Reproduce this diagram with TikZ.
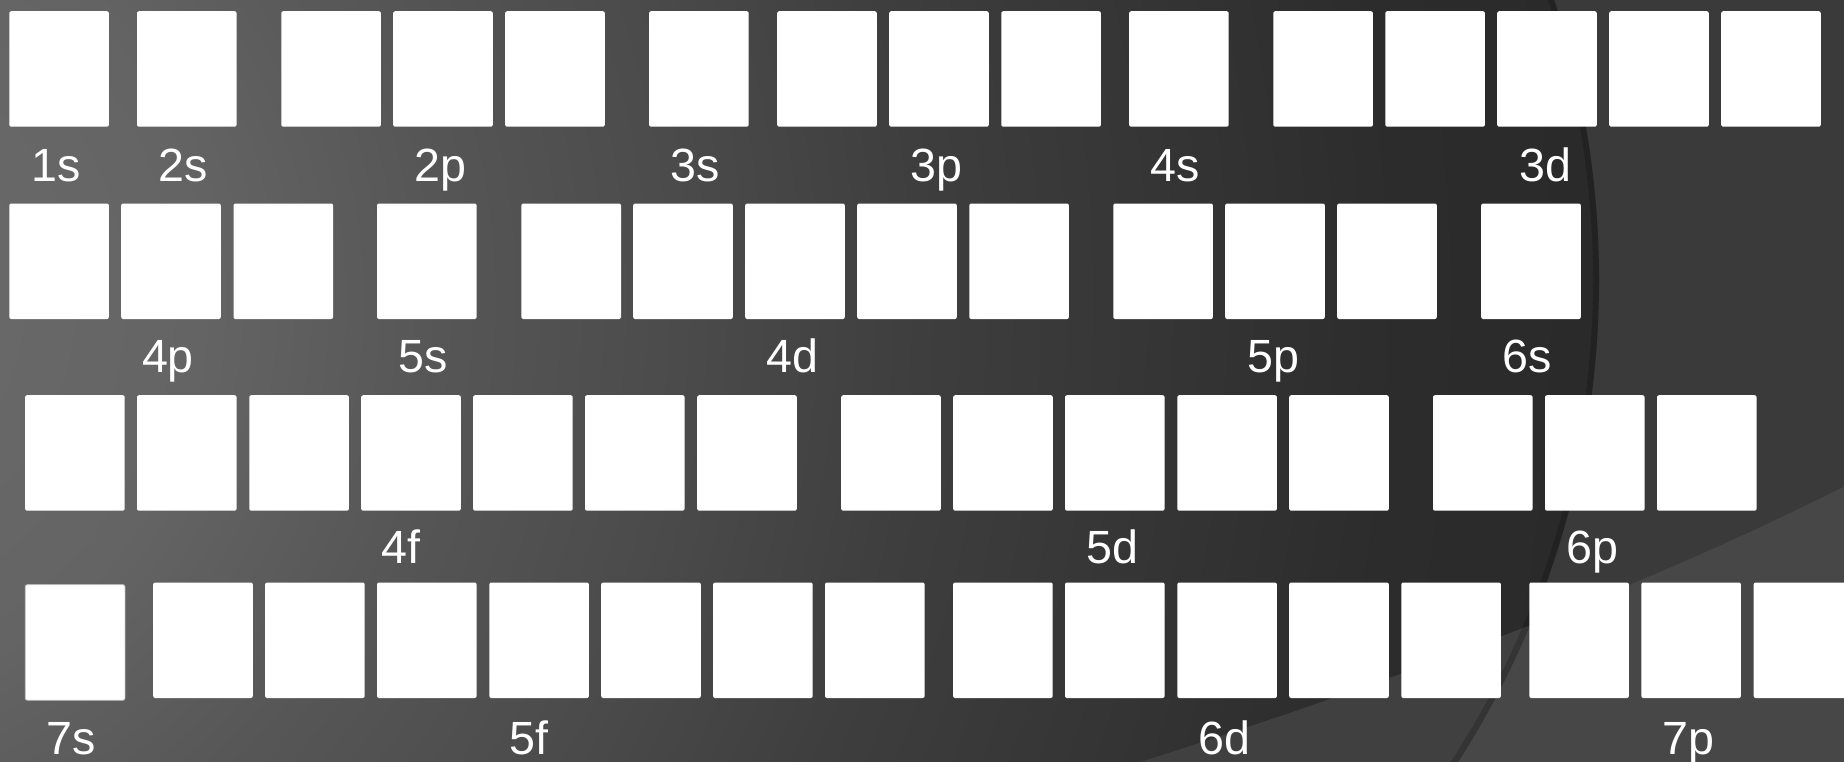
\documentclass[tikz,border=0pt]{standalone}
\usepackage{fontspec}
\setmainfont{Liberation Sans}
\definecolor{outbg}{HTML}{3A3A3A}
\definecolor{swooshout}{HTML}{474747}
\definecolor{swooshin}{HTML}{404040}
\definecolor{edgegray}{HTML}{C8C8C8}
\pgfdeclareradialshading{bgrad}{\pgfpoint{0bp}{0bp}}{%
  color(0bp)=(rgb,255:red,108;green,108;blue,108);
  color(5bp)=(rgb,255:red,100;green,100;blue,100);
  color(8bp)=(rgb,255:red,86;green,86;blue,86);
  color(11bp)=(rgb,255:red,75;green,75;blue,75);
  color(14bp)=(rgb,255:red,62;green,62;blue,62);
  color(17bp)=(rgb,255:red,53;green,53;blue,53);
  color(20bp)=(rgb,255:red,44;green,44;blue,44);
  color(25bp)=(rgb,255:red,40;green,40;blue,40);
  color(50bp)=(rgb,255:red,40;green,40;blue,40)}
\begin{document}
\begin{tikzpicture}[x=1pt,y=-1pt,
  orb/.style={fill=white, rounded corners=2pt, minimum width=99.6pt, minimum height=115.5pt, inner sep=0pt, anchor=north west},
  lbl/.style={text=white, font=\fontsize{46.6}{50}\selectfont, anchor=base, inner sep=0pt}]
% background
\useasboundingbox (0,0) rectangle (1844,761);
\clip (-3,-3) rectangle (1847,764);
\fill[outbg] (-3,-3) rectangle (1847,764);
\fill[swooshout] (1134,764) .. controls (1400,680) and (1650,585) .. (1847,485) -- (1847,764) -- cycle;
\begin{scope}
  \clip (706,280) circle [radius=893];
  \shade[shading=bgrad] (-200,300) circle [radius=2000];
  \fill[swooshin] (1134,764) .. controls (1400,680) and (1650,585) .. (1847,485) -- (1847,764) -- cycle;
  \draw[black, opacity=0.18, line width=12pt] (706,280) circle [radius=893];
\end{scope}
% row 1
\foreach \n/\x in {o1s/9.1, o2s/136.8, o2pa/281.1, o2pb/393.0, o2pc/505.0, o3s/648.9, o3pa/777.0, o3pb/889.0, o3pc/1001.1, o4s/1128.9, o3da/1273.1, o3db/1385.1, o3dc/1497.0, o3dd/1609.0, o3de/1721.0}
  \node[orb] (\n) at (\x,11) {};
% row 2
\foreach \n/\x in {o4pa/9.1, o4pb/121.0, o4pc/233.3, o5s/376.8, o4da/521.2, o4db/633.0, o4dc/745.0, o4dd/857.0, o4de/969.1, o5pa/1113.1, o5pb/1225.0, o5pc/1337.0, o6s/1481.0}
  \node[orb] (\n) at (\x,203.3) {};
% row 3
\foreach \n/\x in {o4fa/24.9, o4fb/136.8, o4fc/249.1, o4fd/361.0, o4fe/472.9, o4ff/584.8, o4fg/697.0, o5da/841.0, o5db/953.0, o5dc/1064.8, o5dd/1177.1, o5de/1289.0, o6pa/1432.8, o6pb/1544.8, o6pc/1656.8}
  \node[orb] (\n) at (\x,395) {};
% row 4
\node[orb, draw=edgegray, line width=0.8pt] (o7s) at (24.9,584.3) {};
\foreach \n/\x in {o5fa/153.0, o5fb/264.9, o5fc/376.8, o5fd/489.1, o5fe/601.0, o5ff/712.9, o5fg/824.8, o6da/952.9, o6db/1064.8, o6dc/1177.1, o6dd/1289.0, o6de/1401.1, o7pa/1529.1, o7pb/1641.1, o7pc/1753.5}
  \node[orb] (\n) at (\x,582.3) {};
% labels
\node[lbl] (l1s) at (56.3,181.7) {1s};
\node[lbl] (l2s) at (182.9,181.7) {2s};
\node[lbl] (l2p) at (440.5,181.7) {2p};
\node[lbl] (l3s) at (695.1,181.7) {3s};
\node[lbl] (l3p) at (936.1,181.7) {3p};
\node[lbl] (l4s) at (1175.2,181.7) {4s};
\node[lbl] (l3d) at (1545.2,181.7) {3d};
\node[lbl] (l4p) at (168,372.7) {4p};
\node[lbl] (l5s) at (423,372.7) {5s};
\node[lbl] (l4d) at (792.4,372.7) {4d};
\node[lbl] (l5p) at (1273,372.7) {5p};
\node[lbl] (l6s) at (1527.4,372.7) {6s};
\node[lbl] (l4f) at (401,563.5) {4f};
\node[lbl] (l5d) at (1112.5,563.5) {5d};
\node[lbl] (l6p) at (1592.2,563.5) {6p};
\node[lbl] (l7s) at (71.2,754) {7s};
\node[lbl] (l5f) at (529,754) {5f};
\node[lbl] (l6d) at (1224.5,754) {6d};
\node[lbl] (l7p) at (1688.7,754) {7p};
\end{tikzpicture}
\end{document}
